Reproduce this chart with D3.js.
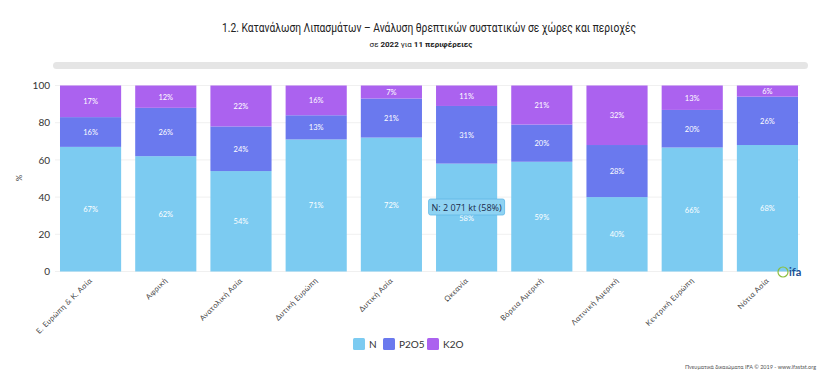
<!DOCTYPE html>
<html><head><meta charset="utf-8">
<script src="https://cdn.jsdelivr.net/npm/d3@7"></script>
<style>
html,body{margin:0;padding:0;background:#fff;overflow:hidden}
svg{display:block}
</style></head><body>
<svg id="c" width="820" height="375"></svg>
<script>
const categories = ["Ε. Ευρώπη & Κ. Ασία","Αφρική","Ανατολική Ασία","Δυτική Ευρώπη","Δυτική Ασία","Ωκεανία","Βόρεια Αμερική","Λατινική Αμερική","Κεντρική Ευρώπη","Νότια Ασία"];
const seriesNames = ["N","P2O5","K2O"];
const nValues   = [67,62,54,71,72,58,59,40,66,68];
const p2o5Values= [16,26,24,13,21,31,20,28,20,26];
const k2oValues = [17,12,22,16,7,11,21,32,13,6];
const yTicks = [0,20,40,60,80,100];
const colors = ["#7ccbf1","#6a79ee","#ab62ef"];
const tooltipText = "N: 2 071 kt (58%)";

const svg = d3.select("#c");
const font = "Lato, 'Open Sans', sans-serif";

// title
svg.append("text").attr("x",222).attr("y",32)
  .attr("font-family","Roboto, sans-serif").attr("font-size",12.5).attr("fill","#222")
  .attr("textLength",414).attr("lengthAdjust","spacingAndGlyphs")
  .text("1.2. Κατανάλωση Λιπασμάτων – Ανάλυση θρεπτικών συστατικών σε χώρες και περιοχές");
const sub = svg.append("text").attr("x",421).attr("y",47).attr("text-anchor","middle")
  .attr("font-family","Roboto, sans-serif").attr("font-size",8).attr("fill","#222");
sub.append("tspan").text("σε ");
sub.append("tspan").attr("font-weight","bold").text("2022");
sub.append("tspan").text(" για ");
sub.append("tspan").attr("font-weight","bold").text("11 περιφέρειες");

svg.append("rect").attr("x",53).attr("y",62).attr("width",755).attr("height",7).attr("rx",3.5).attr("fill","#e5e5e5");

const data = categories.map((c,i)=>({cat:c,N:nValues[i],P2O5:p2o5Values[i],K2O:k2oValues[i]}));
const stack = d3.stack().keys(seriesNames).offset(d3.stackOffsetExpand);
const layers = stack(data);

const x = d3.scaleBand().domain(categories).range([53,805]).paddingInner(0.187).paddingOuter(0.093);
const y = d3.scaleLinear().domain([0,100]).range([271.5,85.5]);

// grid
svg.append("g").selectAll("line").data(yTicks).join("line")
  .attr("x1",55).attr("x2",800).attr("y1",d=>y(d)).attr("y2",d=>y(d))
  .attr("stroke","#f0f0f0").attr("stroke-width",1);

// y axis
const yAxis = svg.append("g").attr("transform","translate(50,0)")
  .call(d3.axisLeft(y).tickValues(yTicks).tickSize(0).tickPadding(0));
yAxis.select(".domain").remove();
yAxis.selectAll("text").attr("font-family",font).attr("font-size",10).attr("fill","#333");

svg.append("text").attr("transform","translate(22,178) rotate(-90)").attr("text-anchor","middle")
  .attr("font-family",font).attr("font-size",8).attr("fill","#333").text("%");

// bars
const g = svg.append("g");
layers.forEach((layer,li)=>{
  g.append("g").selectAll("rect").data(layer).join("rect")
    .attr("x",d=>x(d.data.cat)).attr("width",x.bandwidth())
    .attr("y",d=>y(d[1]*100)).attr("height",d=>y(d[0]*100)-y(d[1]*100))
    .attr("fill",colors[li]);
  g.append("g").selectAll("text").data(layer).join("text")
    .attr("x",d=>x(d.data.cat)+x.bandwidth()/2)
    .attr("y",d=>(y(d[0]*100)+y(d[1]*100))/2+3)
    .attr("text-anchor","middle").attr("font-family",font).attr("font-size",7.5).attr("fill","#fff")
    .text(d=>d.data[layer.key]+"%");
});

// x labels
svg.append("g").selectAll("text").data(categories).join("text")
  .attr("transform",d=>`translate(${x(d)+x.bandwidth()/2+2},281) rotate(-45)`)
  .attr("text-anchor","end").attr("font-family",font).attr("font-size",7.5).attr("fill","#444")
  .attr("letter-spacing",0.35)
  .text(d=>d);

// tooltip
const ti = categories.indexOf("Ωκεανία");
const tx = x(categories[ti])+x.bandwidth()/2;
const tg = svg.append("g").attr("transform",`translate(${tx},207)`);
tg.append("rect").attr("x",-38).attr("y",-8).attr("width",76).attr("height",16).attr("rx",2)
  .attr("fill","#8fd3f3").attr("stroke","#5fb8e6").attr("stroke-width",0.8);
tg.append("text").attr("text-anchor","middle").attr("y",3.5).attr("font-family","'Open Sans',sans-serif")
  .attr("font-size",9).attr("fill","#1a2a4a").text(tooltipText);

// legend
const legX = [353,383,427];
const lg = svg.append("g");
seriesNames.forEach((s,i)=>{
  lg.append("rect").attr("x",legX[i]).attr("y",338).attr("width",12).attr("height",12).attr("rx",1.5).attr("fill",colors[i]);
  lg.append("text").attr("x",legX[i]+16).attr("y",347.5).attr("font-family",font).attr("font-size",10).attr("fill","#333").text(s);
});

// logo
const logo = svg.append("g").attr("transform","translate(778,262)");
logo.append("circle").attr("cx",5).attr("cy",10).attr("r",5).attr("fill","none").attr("stroke","#8bbf3f").attr("stroke-width",1.2);
logo.append("text").attr("x",11).attr("y",14).attr("font-family",font).attr("font-weight","bold").attr("font-size",11).attr("fill","#1d4f91").text("ifa");

// footer
svg.append("text").attr("x",816).attr("y",369).attr("text-anchor","end").attr("font-family",font).attr("font-size",5.5).attr("fill","#555")
  .text("Πνευματικά δικαιώματα IFA © 2019 - www.ifastat.org");
</script></body></html>
